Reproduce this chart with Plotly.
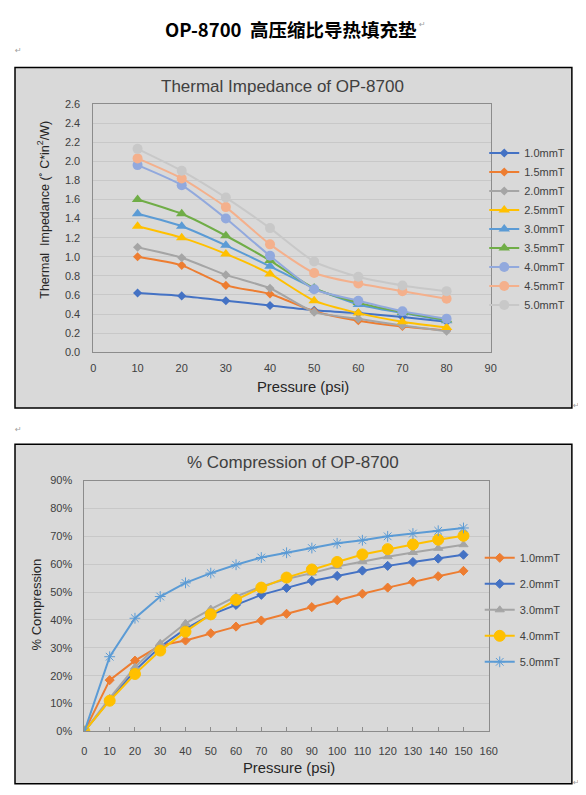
import plotly.graph_objs as go

# ================= #
# Dados dos gráficos #
# ================= #

# Thermal impedance vs pressure
pressure_ti = [10, 20, 30, 40, 50, 60, 70, 80]
ti_names = ['1.0mmT', '1.5mmT', '2.0mmT', '2.5mmT', '3.0mmT',
            '3.5mmT', '4.0mmT', '4.5mmT', '5.0mmT']
ti_10 = [0.62, 0.59, 0.54, 0.49, 0.44, 0.41, 0.37, 0.32]
ti_15 = [1.00, 0.91, 0.70, 0.61, 0.43, 0.33, 0.27, 0.23]
ti_20 = [1.10, 0.99, 0.81, 0.67, 0.42, 0.35, 0.28, 0.22]
ti_25 = [1.32, 1.20, 1.03, 0.82, 0.54, 0.41, 0.32, 0.26]
ti_30 = [1.45, 1.32, 1.12, 0.90, 0.67, 0.50, 0.41, 0.33]
ti_35 = [1.60, 1.45, 1.22, 0.96, 0.67, 0.52, 0.42, 0.34]
ti_40 = [1.96, 1.75, 1.40, 1.01, 0.66, 0.54, 0.43, 0.35]
ti_45 = [2.03, 1.82, 1.52, 1.13, 0.83, 0.72, 0.64, 0.56]
ti_50 = [2.13, 1.90, 1.62, 1.30, 0.95, 0.79, 0.70, 0.64]

# % compression vs pressure
pressure_pc = [0, 10, 20, 30, 40, 50, 60, 70, 80, 90, 100, 110, 120, 130, 140, 150]
pc_names = ['1.0mmT', '2.0mmT', '3.0mmT', '4.0mmT', '5.0mmT']
pc_10 = [0, 18.4, 25.4, 30.8, 32.6, 35.2, 37.6, 39.8, 42.2, 44.6, 47.1, 49.4, 51.6, 53.7, 55.7, 57.6]
pc_20 = [0, 11.3, 21.8, 30.4, 36.8, 41.8, 45.4, 49.0, 51.5, 54.0, 55.8, 57.7, 59.4, 60.8, 62.0, 63.4]
pc_30 = [0, 11.9, 23.0, 31.6, 38.8, 43.9, 48.4, 52.0, 54.7, 56.8, 59.2, 61.0, 62.7, 64.2, 65.7, 67.0]
pc_40 = [0, 11.0, 20.6, 29.0, 35.8, 42.0, 47.2, 51.6, 55.2, 58.1, 60.8, 63.5, 65.4, 67.1, 68.8, 70.2]
pc_50 = [0, 26.8, 40.6, 48.4, 53.3, 56.8, 59.8, 62.4, 64.1, 65.8, 67.5, 68.6, 70.0, 71.0, 72.0, 73.0]

# posição da figura na página fotografada (margem do body + escala medida)
W, H = 586, 795
SX, SY = 0.978, 0.983
OX, OY = 11, 13.7
FONT = 'Liberation Sans, Arial, sans-serif'


def px(x):
    return (x - OX) / SX / W


def py(y):
    return 1 - (y - OY) / SY / H


fig = go.Figure()

# --- gráfico 1 ---
ti_vals = [ti_10, ti_15, ti_20, ti_25, ti_30, ti_35, ti_40, ti_45, ti_50]
ti_colors = ['#4472C4', '#ED7D31', '#A5A5A5', '#FFC000', '#5B9BD5',
             '#70AD47', '#92A9DD', '#F4B08C', '#C8C8C8']
ti_symbols = ['diamond'] * 3 + ['triangle-up'] * 3 + ['circle'] * 3
ti_sizes = [7] * 3 + [10] * 3 + [10] * 3

for i in range(len(ti_vals)):
    fig.add_trace(go.Scatter(
        x=pressure_ti, y=ti_vals[i], name=ti_names[i],
        mode='markers+lines',
        line=dict(color=ti_colors[i], width=2, shape='spline', smoothing=0.6),
        marker=dict(color=ti_colors[i], symbol=ti_symbols[i], size=ti_sizes[i]),
        xaxis='x', yaxis='y', legend='legend',
    ))

# --- gráfico 2 ---
pc_vals = [pc_10, pc_20, pc_30, pc_40, pc_50]
pc_colors = ['#ED7D31', '#4472C4', '#A5A5A5', '#FFC000', '#5B9BD5']
pc_symbols = ['diamond', 'diamond', 'triangle-up', 'circle', 'asterisk-open']
pc_sizes = [7, 7, 8, 11, 9]

for i in range(len(pc_vals)):
    fig.add_trace(go.Scatter(
        x=pressure_pc, y=[v / 100 for v in pc_vals[i]], name=pc_names[i],
        mode='markers+lines', legendgroup=pc_names[i],
        line=dict(color=pc_colors[i], width=2),
        marker=dict(color=pc_colors[i], symbol=pc_symbols[i], size=pc_sizes[i],
                    line=dict(color=pc_colors[i], width=1)),
        xaxis='x2', yaxis='y2', legend='legend2',
    ))

axis_common = dict(
    showline=True, linecolor='#8C8C8C', linewidth=1, mirror=True,
    tickfont=dict(size=11, color='#404040', family=FONT),
    zeroline=False, fixedrange=True,
)

# caixas cinzas dos gráficos
shapes = [
    dict(type='rect', xref='paper', yref='paper', layer='below',
         x0=px(15), x1=px(571), y0=py(67), y1=py(407),
         fillcolor='#D9D9D9', line=dict(color='black', width=1.5)),
    dict(type='rect', xref='paper', yref='paper', layer='below',
         x0=px(15), x1=px(571), y0=py(443), y1=py(782),
         fillcolor='#D9D9D9', line=dict(color='black', width=1.5)),
]

annotations = [
    # título do documento: encostado no topo da figura para não ser cortado
    dict(text='<b>OP-8700  高压缩比导热填充垫</b>', x=px(291), y=1,
         yanchor='top', font=dict(size=18.5, family='Noto Sans CJK SC', color='black')),
    dict(text='Thermal Impedance of OP-8700', x=px(282), y=py(86),
         font=dict(size=17, family=FONT, color='#404040')),
    dict(text='Pressure (psi)', x=px(303), y=py(386),
         font=dict(size=14.8, family=FONT, color='#262626')),
    dict(text='Thermal  Impedance (˚ C*in<sup>2</sup>/W)', x=px(43), y=py(209),
         textangle=-90, font=dict(size=12.5, family=FONT, color='#262626')),
    dict(text='% Compression of OP-8700', x=px(293), y=py(461),
         font=dict(size=17, family=FONT, color='#404040')),
    dict(text='Pressure (psi)', x=px(289), y=py(766),
         font=dict(size=14.8, family=FONT, color='#262626')),
    dict(text='% Compression', x=px(36), y=py(603),
         textangle=-90, font=dict(size=13, family=FONT, color='#262626')),
]
# marcas de parágrafo do documento
for mx, my in [(422, 24), (18, 50), (576, 404), (18, 428), (576, 781)]:
    annotations.append(dict(text='↵', x=px(mx), y=py(my),
                            font=dict(size=8, color='#A0A0A0', family='DejaVu Sans')))
for a in annotations:
    a.setdefault('yanchor', 'middle')
    a.update(xref='paper', yref='paper', showarrow=False, xanchor='center')

fig.update_layout(
    width=W, height=H,
    margin=dict(l=0, r=0, t=0, b=0),
    paper_bgcolor='white', plot_bgcolor='white',
    showlegend=True,
    xaxis=dict(domain=[px(93.3), px(490)], range=[0, 90], dtick=10,
               showgrid=False, ticks='', ticklabelstandoff=6, anchor='y', **axis_common),
    yaxis=dict(domain=[py(351.3), py(103.5)], range=[0, 2.6], dtick=0.2,
               tickformat='.1f', showgrid=True, gridcolor='#C8C8C8',
               ticks='', ticklabelstandoff=10, anchor='x', **axis_common),
    xaxis2=dict(domain=[px(84.3), px(488)], range=[0, 160], dtick=10,
                showgrid=False, ticks='inside', ticklen=4, tickcolor='#8C8C8C',
                ticklabelstandoff=9, anchor='y2', **axis_common),
    yaxis2=dict(domain=[py(729.7), py(479.4)], range=[0, 0.9], dtick=0.1,
                tickformat='.0%', showgrid=True, gridcolor='#C8C8C8',
                ticks='', ticklabelstandoff=9, anchor='x2', **axis_common),
    legend=dict(x=px(483.5), y=py(138), xanchor='left', yanchor='top',
                bgcolor='rgba(0,0,0,0)', itemwidth=30,
                font=dict(size=11, family=FONT, color='#404040')),
    legend2=dict(x=px(479), y=py(542), xanchor='left', yanchor='top',
                 bgcolor='rgba(0,0,0,0)', itemwidth=30, tracegroupgap=7,
                 font=dict(size=11, family=FONT, color='#404040')),
    shapes=shapes,
    annotations=annotations,
)

fig.write_html('out.html')
